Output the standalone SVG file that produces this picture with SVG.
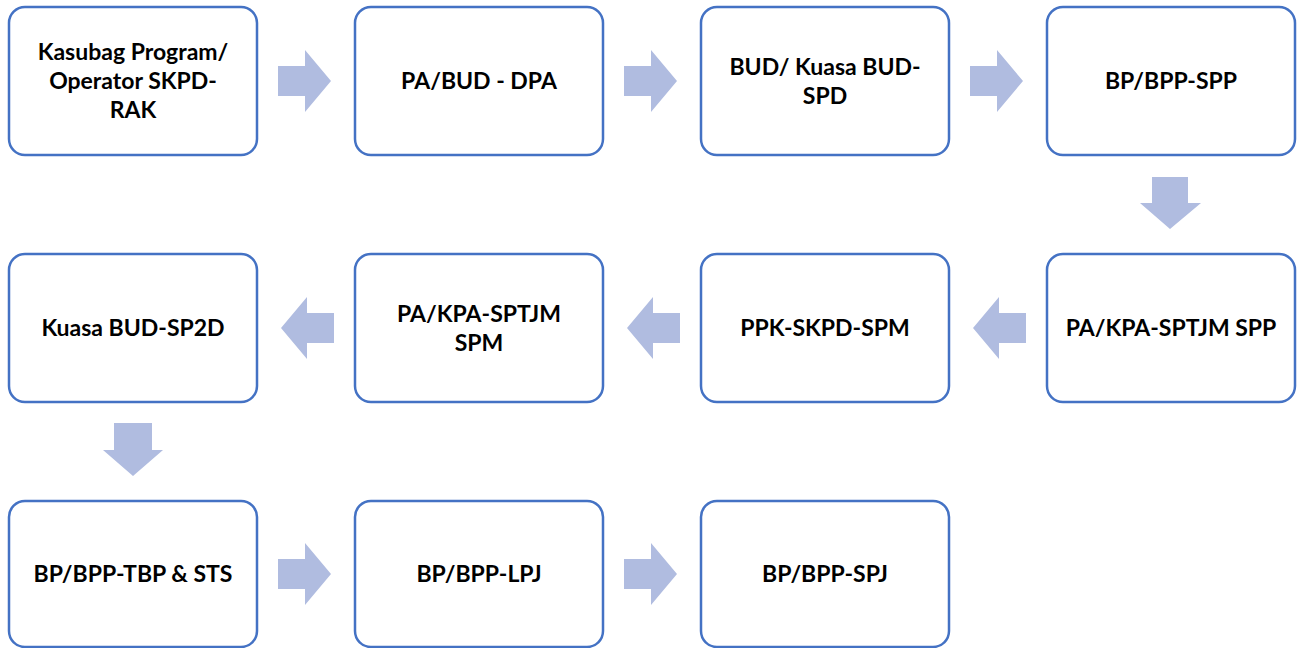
<svg xmlns="http://www.w3.org/2000/svg" width="1301" height="648" viewBox="0 0 1301 648">
<style>
.box{fill:#fff;stroke:#4472C4;stroke-width:2.5}
.t{font-family:Lato,"Open Sans","Liberation Sans",sans-serif;font-weight:700;font-size:23px;fill:#000;text-anchor:middle}
.arr{fill:#B0BCE0}
</style>
<rect width="1301" height="648" fill="#fff"/>
<g id="connectors">
<path class="arr" d="M278,66H305V50L331,81L305,112V96H278Z"/>
<path class="arr" d="M624,66H651V50L677,81L651,112V96H624Z"/>
<path class="arr" d="M970,66H997V50L1023,81L997,112V96H970Z"/>
<path class="arr" d="M1152,177H1188V203H1201L1170,229L1140,203H1152Z"/>
<path class="arr" d="M1026,313H999V297L973,328L999,359V343H1026Z"/>
<path class="arr" d="M680,313H653V297L627,328L653,359V343H680Z"/>
<path class="arr" d="M334,313H307V297L281,328L307,359V343H334Z"/>
<path class="arr" d="M114,423H152V450H163L133,476L103,450H114Z"/>
<path class="arr" d="M278,559H305V543L331,574L305,605V589H278Z"/>
<path class="arr" d="M624,559H651V543L677,574L651,605V589H624Z"/>
</g>
<g id="n1"><rect class="box" x="9" y="7" width="248" height="148" rx="16"/><text class="t" x="133" y="60">Kasubag Program/</text><text class="t" x="133" y="89">Operator SKPD-</text><text class="t" x="133" y="118">RAK</text></g>
<g id="n2"><rect class="box" x="355" y="7" width="248" height="148" rx="16"/><text class="t" x="479" y="89">PA/BUD - DPA</text></g>
<g id="n3"><rect class="box" x="701" y="7" width="248" height="148" rx="16"/><text class="t" x="825" y="75">BUD/ Kuasa BUD-</text><text class="t" x="825" y="104">SPD</text></g>
<g id="n4"><rect class="box" x="1047" y="7" width="248" height="148" rx="16"/><text class="t" x="1171" y="89">BP/BPP-SPP</text></g>
<g id="n5"><rect class="box" x="1047" y="254" width="248" height="148" rx="16"/><text class="t" x="1171" y="336">PA/KPA-SPTJM SPP</text></g>
<g id="n6"><rect class="box" x="701" y="254" width="248" height="148" rx="16"/><text class="t" x="825" y="336">PPK-SKPD-SPM</text></g>
<g id="n7"><rect class="box" x="355" y="254" width="248" height="148" rx="16"/><text class="t" x="479" y="322">PA/KPA-SPTJM</text><text class="t" x="479" y="351">SPM</text></g>
<g id="n8"><rect class="box" x="9" y="254" width="248" height="148" rx="16"/><text class="t" x="133" y="336">Kuasa BUD-SP2D</text></g>
<g id="n9"><rect class="box" x="9" y="501" width="248" height="146" rx="16"/><text class="t" x="133" y="582">BP/BPP-TBP &amp; STS</text></g>
<g id="n10"><rect class="box" x="355" y="501" width="248" height="146" rx="16"/><text class="t" x="479" y="582">BP/BPP-LPJ</text></g>
<g id="n11"><rect class="box" x="701" y="501" width="248" height="146" rx="16"/><text class="t" x="825" y="582">BP/BPP-SPJ</text></g>
</svg>
